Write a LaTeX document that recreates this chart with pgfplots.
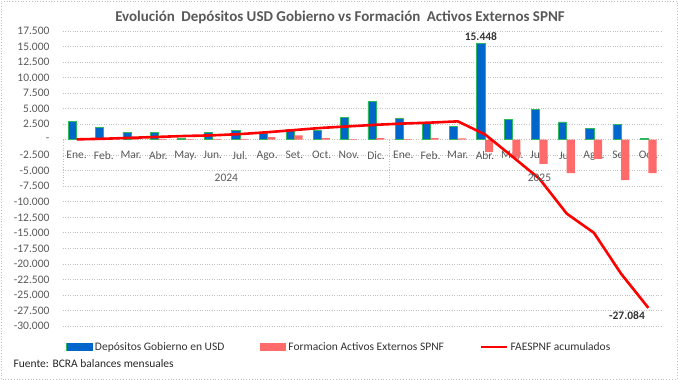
\documentclass[border=0pt]{standalone}
\usepackage{pgfplots}
\pgfplotsset{compat=1.18}
\usepackage{fontspec}
\setmainfont{Carlito}
\definecolor{txt}{HTML}{595959}
\definecolor{bluebar}{HTML}{0066CC}
\definecolor{greenedge}{HTML}{2EB85C}
\definecolor{redbar}{HTML}{FF6B6B}
\definecolor{gridc}{HTML}{BFBFBF}
\begin{document}
\begin{tikzpicture}[x=1pt,y=1pt]
\path (0,0) rectangle (678,380);
\draw[gridc, dotted, line width=0.8pt] (1,1) rectangle (677,379);
\node[font=\fontsize{15}{18}\selectfont\bfseries, text=txt] at (340,363) {Evolución\hspace{3pt} Depósitos USD Gobierno vs Formación\hspace{3pt} Activos Externos SPNF};
\node[font=\fontsize{11.5}{13}\selectfont, anchor=west, text=black!85] at (10,16) {Fuente: BCRA balances mensuales};
\begin{axis}[
  at={(63pt,54pt)}, anchor=south west,
  scale only axis, width=599pt, height=295pt,
  xmin=-0.5, xmax=21.5, ymin=-30000, ymax=17500,
  axis x line=middle, axis y line=left, axis line style={draw=none},
  major tick length=0pt,
  scaled y ticks=false,
  xtick={0,...,21},
  xticklabels={Ene.,Feb.,Mar.,Abr.,May.,Jun.,Jul.,Ago.,Set.,Oct.,Nov.,Dic.,Ene.,Feb.,Mar.,Abr.,May.,Jun.,Jul.,Ago.,Set.,Oct.},
  ytick={-30000,-27500,...,17500},
  yticklabels={-30.000,-27.500,-25.000,-22.500,-20.000,-17.500,-15.000,-12.500,-10.000,-7.500,-5.000,-2.500,-,2.500,5.000,7.500,10.000,12.500,15.000,17.500},
  ymajorgrids, grid style={gridc, dotted, line width=0.7pt},
  ticklabel style={font=\fontsize{11.5}{13}\selectfont, text=txt},
  yticklabel style={xshift=-10pt},
  xticklabel style={yshift=-8pt},
  clip=false,
  legend columns=3,
  legend style={at={(axis description cs:0,-0.071)}, anchor=west, draw=none, fill=none,
    font=\fontsize{11.5}{13}\selectfont, text=black!80,
    /tikz/every even column/.append style={column sep=34pt}},
]
\addplot[ybar, bar width=0.3, bar shift=-0.15, fill=bluebar, draw=greenedge, line width=0.8pt,
  legend image code/.code={\fill[greenedge] (0pt,-3.8pt) rectangle (26pt,3.8pt); \fill[bluebar] (0.6pt,-3.2pt) rectangle (25.4pt,3.2pt);}]
coordinates {(0,2950)(1,1900)(2,1200)(3,1150)(4,250)(5,1100)(6,1450)(7,1050)(8,1650)(9,1450)(10,3650)(11,6100)(12,3350)(13,2700)(14,2150)(15,15448)(16,3250)(17,4850)(18,2850)(19,1850)(20,2500)(21,250)};
\addlegendentry{Depósitos Gobierno en USD}
\addplot[ybar, bar width=0.3, bar shift=0.15, fill=redbar, draw=none,
  legend image code/.code={\fill[redbar] (0pt,-3.8pt) rectangle (26pt,3.8pt);}]
coordinates {(0,50)(1,200)(2,150)(3,150)(4,100)(5,150)(6,150)(7,400)(8,700)(9,250)(10,100)(11,250)(12,100)(13,250)(14,200)(15,-2000)(16,-2900)(17,-3900)(18,-5400)(19,-3100)(20,-6500)(21,-5400)};
\addlegendentry{Formacion Activos Externos SPNF}
\addplot[red, line width=2.6pt, line join=round, mark=none,
  legend image code/.code={\draw[red, line width=2.6pt] (0pt,0pt) -- (26pt,0pt);}]
coordinates {(0,50)(1,150)(2,300)(3,450)(4,600)(5,700)(6,900)(7,1200)(8,1550)(9,1900)(10,2150)(11,2400)(12,2600)(13,2750)(14,2950)(15,850)(16,-2700)(17,-6300)(18,-11900)(19,-15000)(20,-21600)(21,-27084)};
\addlegendentry{FAESPNF acumulados}
\draw[gridc, dotted, line width=0.7pt] (axis cs:-0.5,0) -- (axis cs:-0.5,-7500);
\draw[gridc, dotted, line width=0.7pt] (axis cs:11.5,0) -- (axis cs:11.5,-7500);
\node[font=\fontsize{11.5}{13}\selectfont, text=txt] at (axis cs:5.5,-6160) {2024};
\node[font=\fontsize{11.5}{13}\selectfont, text=txt] at (axis cs:17,-6160) {2025};
\node[font=\fontsize{11.5}{13}\selectfont\bfseries, text=black!80, anchor=south] at (axis cs:14.85,15448) {15.448};
\node[font=\fontsize{11.5}{13}\selectfont\bfseries, text=black!80, anchor=north east] at (axis cs:21,-27084) {-27.084};
\end{axis}
\end{tikzpicture}
\end{document}
